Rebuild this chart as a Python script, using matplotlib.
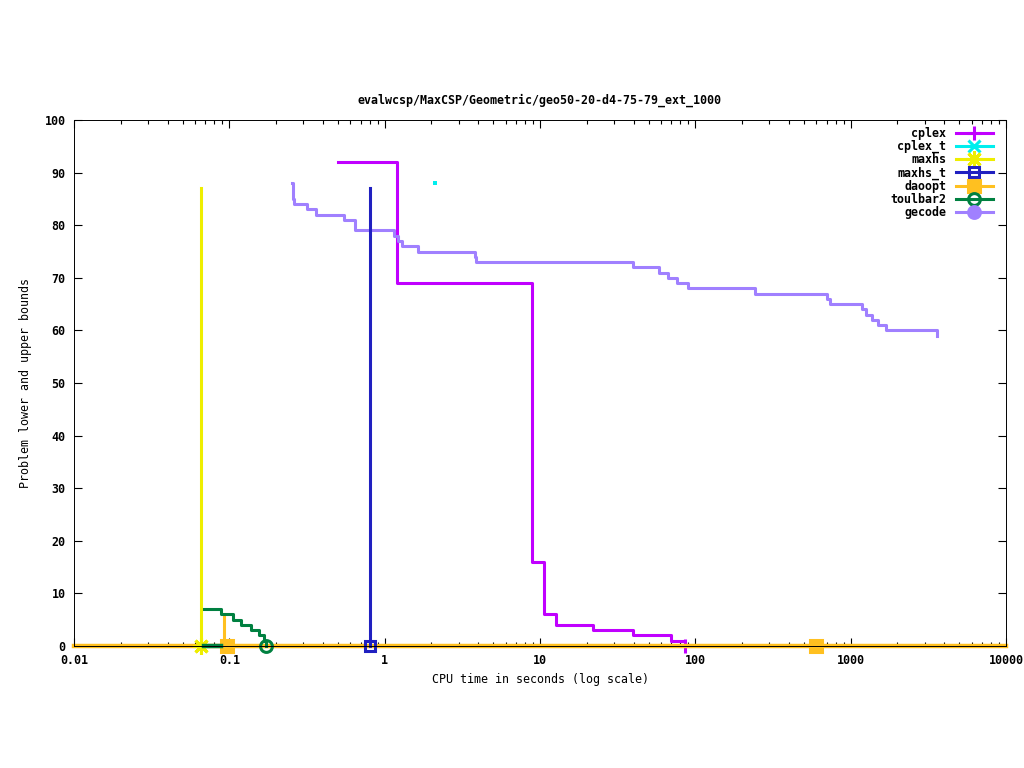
import matplotlib
matplotlib.use("Agg")
import matplotlib.pyplot as plt
from matplotlib.lines import Line2D
from matplotlib.ticker import FixedLocator, LogLocator, NullFormatter

title = "evalwcsp/MaxCSP/Geometric/geo50-20-d4-75-79_ext_1000"
x_label = "CPU time in seconds (log scale)"
y_label = "Problem lower and upper bounds"

x_ticks = [0.01, 0.1, 1, 10, 100, 1000, 10000]
x_tick_labels = ["0.01", "0.1", "1", "10", "100", "1000", "10000"]
y_ticks = [0, 10, 20, 30, 40, 50, 60, 70, 80, 90, 100]

# upper bounds over time (step curves)
cplex_x = [0.5, 1.2, 8.85, 10.67, 12.6, 22.1, 39.9, 69.5, 86.0]
cplex_y = [92, 69, 16, 6, 4, 3, 2, 1, 0]

cplex_t_x = [2.11]
cplex_t_y = [88]

maxhs_x = [0.066, 0.066]
maxhs_y = [87, 0]

maxhs_t_x = [0.805, 0.805]
maxhs_t_y = [87, 0]

daoopt_x = [0.092, 0.092, 0.096, 600]
daoopt_y = [6, 0, 0, 0]
# lower bound found by the solvers, flat along the whole time axis
lower_bound = 0

toulbar2_x = [0.0687, 0.088, 0.105, 0.119, 0.137, 0.155, 0.167, 0.172]
toulbar2_y = [7, 6, 5, 4, 3, 2, 1, 0]
toulbar2_lb_x = [0.0687, 0.088]

gecode_x = [0.253, 0.256, 0.258, 0.262, 0.315, 0.361, 0.548, 0.648, 1.14, 1.22,
            1.29, 1.63, 3.82, 3.87, 39.9, 58.7, 67.1, 76.7, 89.5, 242.7,
            703, 731, 1175, 1256, 1380, 1504, 1693, 3589]
gecode_y = [88, 87, 85, 84, 83, 82, 81, 79, 78, 77,
            76, 75, 74, 73, 72, 71, 70, 69, 68, 67,
            66, 65, 64, 63, 62, 61, 60, 59]

names = ["cplex", "cplex_t", "maxhs", "maxhs_t", "daoopt", "toulbar2", "gecode"]
colors = ["#c000ff", "#00eeee", "#eeee00", "#2020c0", "#ffc020", "#008040", "#a080ff"]
asterisk = (8, 2, 0)
markers = ["+", "x", asterisk, "s", "s", "o", "o"]
sizes = [9.5, 9, 12, 7.5, 8, 8.5, 8.5]
filled = [True, True, True, False, True, False, True]

plt.rcParams["font.family"] = ["DejaVu Sans Mono"]
plt.rcParams["font.weight"] = "bold"
plt.rcParams["font.size"] = 8.4

fig = plt.figure(figsize=(10.24, 7.68), dpi=100)
ax = fig.add_axes([74 / 1024, 1 - 646 / 768, 932 / 1024, 526 / 768])

lw = 2.2


def style(i):
    face = colors[i] if filled[i] else "none"
    return dict(color=colors[i], marker=markers[i], markersize=sizes[i],
                markeredgewidth=lw, markerfacecolor=face, markeredgecolor=colors[i],
                linewidth=lw, clip_on=False)


ax.set_xscale("log")
ax.set_xlim(0.01, 10000)
ax.set_ylim(0, 100)

ax.plot(cplex_x, cplex_y, drawstyle="steps-post", markevery=[len(cplex_x) - 1], **style(0))
ax.plot(cplex_t_x, cplex_t_y, linestyle="none", marker="s", markersize=2.2,
        color=colors[1], markeredgewidth=0)
ax.axhline(lower_bound, color=colors[4], linewidth=3.2, zorder=3.2, clip_on=False)
ax.plot(maxhs_x, maxhs_y, markevery=[1], zorder=3.3, **style(2))
ax.plot(maxhs_t_x, maxhs_t_y, markevery=[1], zorder=3.3, **style(3))
ax.plot(daoopt_x, daoopt_y, markevery=[2, 3], zorder=3.2, **style(4))
ax.plot(toulbar2_lb_x, [lower_bound] * len(toulbar2_lb_x), color=colors[5],
        linewidth=3.2, zorder=3.3, clip_on=False)
ax.plot(toulbar2_x, toulbar2_y, drawstyle="steps-post", markevery=[len(toulbar2_x) - 1],
        zorder=3.3, **style(5))
ax.plot(gecode_x, gecode_y, drawstyle="steps-post", color=colors[6], linewidth=lw)

ax.xaxis.set_major_locator(FixedLocator(x_ticks))
ax.set_xticklabels(x_tick_labels)
ax.xaxis.set_minor_locator(LogLocator(base=10, subs=range(2, 10), numticks=20))
ax.xaxis.set_minor_formatter(NullFormatter())
ax.set_yticks(y_ticks)
ax.tick_params(which="both", direction="in", top=True, right=True, width=0.8, color="black")
ax.tick_params(which="major", length=6)
ax.tick_params(axis="x", which="major", pad=6)
ax.tick_params(axis="y", which="major", pad=6)
ax.tick_params(which="minor", length=3)
for s in ax.spines.values():
    s.set_linewidth(0.7)
    s.set_zorder(3.5)

ax.set_title(title, pad=12, fontsize=8.4, fontweight="bold")
ax.set_xlabel(x_label, labelpad=4)
ax.set_ylabel(y_label, labelpad=9)

handles = [Line2D([], [], **{k: v for k, v in style(i).items() if k != "clip_on"})
           for i in range(len(names))]
ax.legend(handles, names, loc="upper right", bbox_to_anchor=(1 - 13 / 932, 1 - 7 / 526),
          frameon=False, markerfirst=False, handlelength=3.2, handletextpad=0.8,
          labelspacing=0.0, borderpad=0, borderaxespad=0)

fig.savefig("out.png", dpi=100)
